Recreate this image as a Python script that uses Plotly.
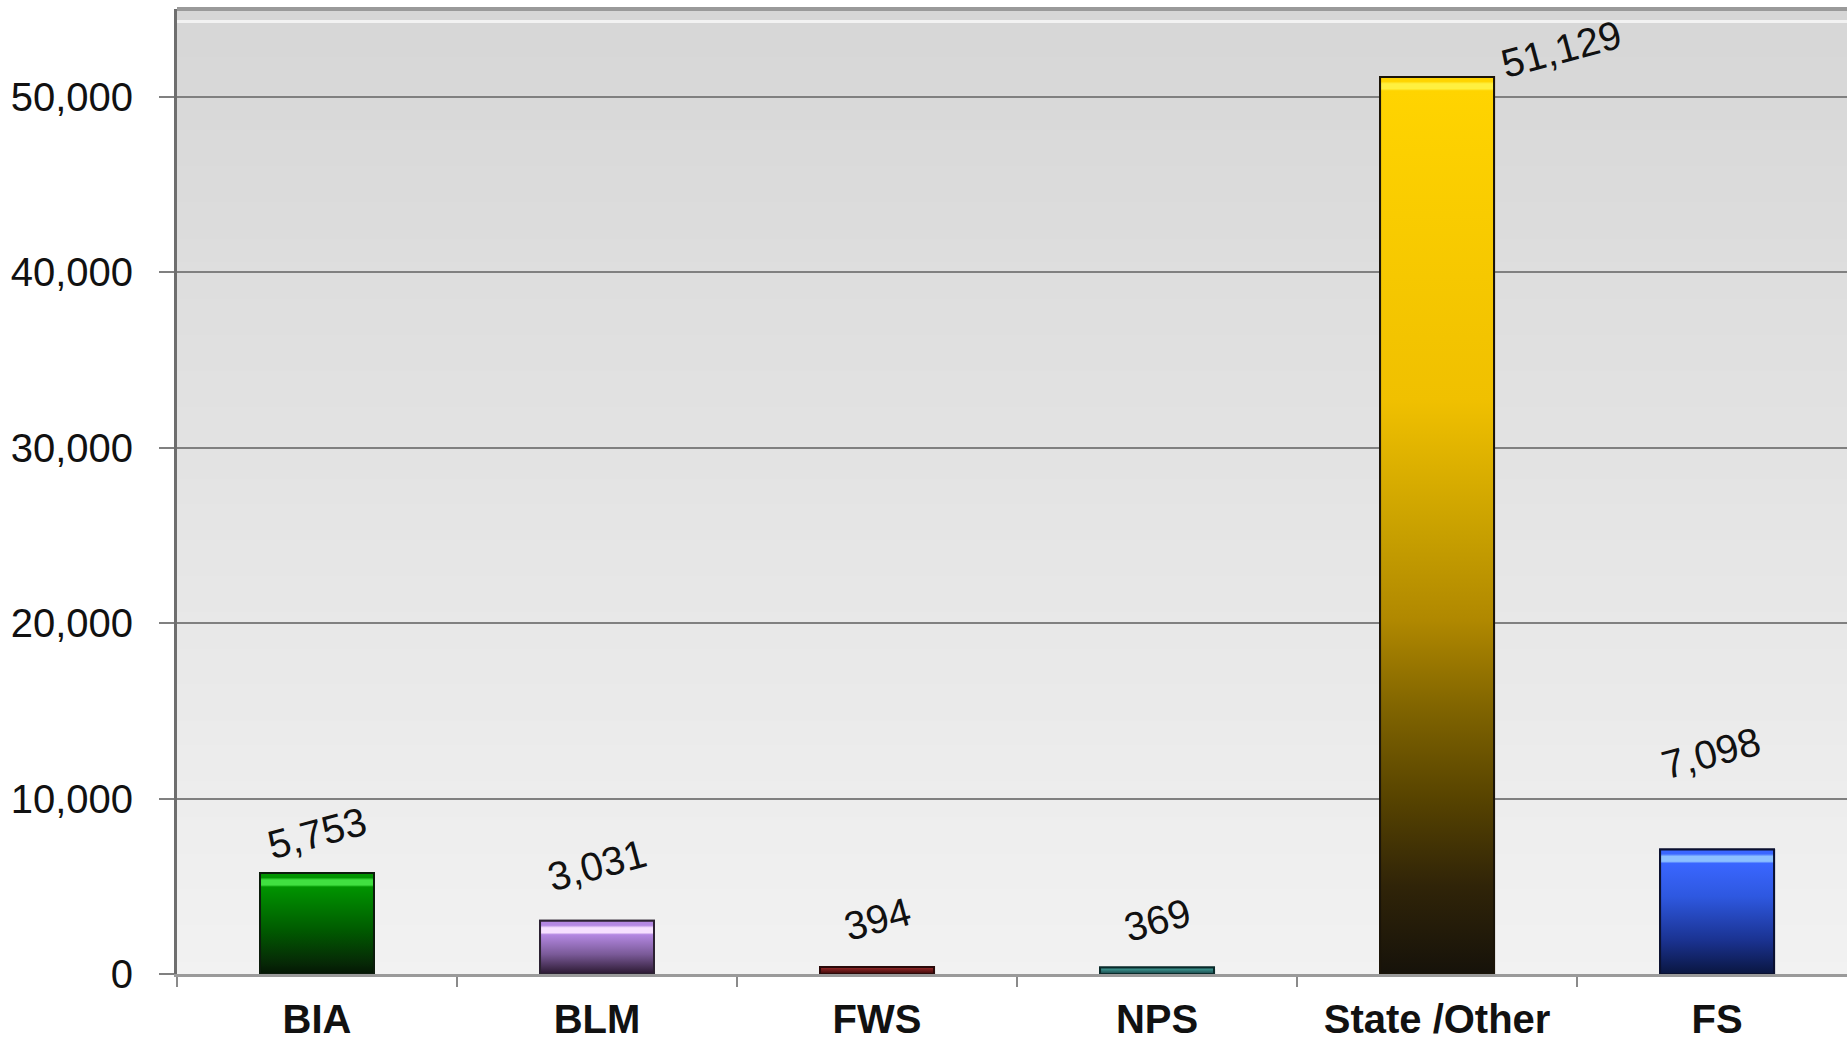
import plotly.graph_objects as go

# ---- data ----
categories = ["BIA", "BLM", "FWS", "NPS", "State /Other", "FS"]
values = [5753, 3031, 394, 369, 51129, 7098]
y_tick_values = [0, 10000, 20000, 30000, 40000, 50000]
y_tick_labels = ["0", "10,000", "20,000", "30,000", "40,000", "50,000"]

# ---- styles ----
base_gradients = [
    [(0, "#041604"), (0.12, "#062806"), (0.5, "#005a00"), (1, "#009400")],
    [(0, "#2a1830"), (0.5, "#7a5a98"), (1, "#b488e2")],
    [(0, "#3a0808"), (1, "#9a2a2a")],
    [(0, "#1a4448"), (1, "#44a8a0")],
    [(0, "#16120a"), (0.1, "#302408"), (0.2, "#584400"), (0.3, "#806400"),
     (0.4, "#b08800"), (0.5, "#c8a000"), (0.65, "#f0c000"), (1, "#ffd400")],
    [(0, "#0a1640"), (0.3, "#1a3290"), (0.7, "#2e58e0"), (1, "#3a66ff")],
]
highlights = ["#40e040", "#f6e0ff", None, None, "#fff040", "#8cc0ff"]
outline_colors = ["#0c1c0c", "#2c2232", "#2a0a0a", "#0a2a2a", "#1a1408", "#0a1030"]
label_offsets = [(0, 40), (0, 56), (0, 48), (0, 48), (124, 28), (-6, 96)]
bar_width = 0.407

W, H = 1847, 1041
ML, MR, MT, MB = 177, 0, 9, 57
y_max = 55000
px_per_unit = (H - MT - MB) / y_max

FONT = "Liberation Sans, Arial, sans-serif"

fig = go.Figure()

# data-bearing bar trace
fig.add_trace(go.Bar(
    x=list(range(len(categories))), y=values, width=bar_width,
    marker=dict(color=[g[-1][1] for g in base_gradients],
                line=dict(color=outline_colors, width=2)),
    hoverinfo="skip", showlegend=False,
))

# gradient fills over the bars (derived from the data)
for i, (v, grad, hi, oc) in enumerate(zip(values, base_gradients, highlights, outline_colors)):
    h = v * px_per_unit
    if hi is not None and h > 40:
        top_lim = 1 - 14 / h
        cs = [[p * top_lim, c] for p, c in grad]
        top = grad[-1][1]
        cs += [[1 - 12 / h, hi], [1 - 7 / h, hi], [1 - 4.5 / h, top], [1, top]]
    else:
        cs = [[p, c] for p, c in grad]
    x0, x1 = i - bar_width / 2, i + bar_width / 2
    fig.add_trace(go.Scatter(
        x=[x0, x1, x1, x0, x0], y=[0, 0, v, v, 0],
        mode="lines", fill="toself",
        fillgradient=dict(type="vertical", colorscale=cs),
        line=dict(color=oc, width=2),
        hoverinfo="skip", showlegend=False,
    ))

# value labels
for i, (v, (dx, dy)) in enumerate(zip(values, label_offsets)):
    fig.add_annotation(
        x=i, y=v, text=f"{v:,}", showarrow=False,
        xshift=dx, yshift=dy, textangle=-15,
        xanchor="center", yanchor="middle",
        font=dict(family=FONT, size=40, color="#111111"),
    )

# plot-area background gradient (top darker, bottom lighter)
def lerp(c0, c1, t):
    a = [int(c0[k:k + 2], 16) for k in (1, 3, 5)]
    b = [int(c1[k:k + 2], 16) for k in (1, 3, 5)]
    return "#%02x%02x%02x" % tuple(round(a[j] + (b[j] - a[j]) * t) for j in range(3))

N = 80
for k in range(N):
    fig.add_shape(type="rect", xref="x domain", yref="y domain",
                  x0=0, x1=1, y0=k / N, y1=(k + 1) / N + 0.002,
                  fillcolor=lerp("#f2f2f2", "#d6d6d6", (k + 0.5) / N),
                  line=dict(width=0), layer="below")

# top border and inner highlight line
fig.add_shape(type="line", xref="x domain", yref="y domain", x0=0, x1=1, y0=0.987, y1=0.987,
              line=dict(color="#f2f2f2", width=3), layer="below")
fig.add_shape(type="line", xref="x domain", yref="y domain", x0=0, x1=1, y0=1, y1=1,
              line=dict(color="#9a9a9a", width=4))

fig.update_layout(
    width=W, height=H,
    margin=dict(l=ML, r=MR, t=MT, b=MB, pad=0),
    paper_bgcolor="white", plot_bgcolor="white",
    barmode="overlay",
    showlegend=False,
    font=dict(family=FONT, color="#111111"),
)

fig.update_xaxes(
    range=[-0.5, 5.464],
    tickmode="array", tickvals=list(range(len(categories))), ticktext=categories,
    ticks="", showgrid=False, zeroline=False,
    tickfont=dict(family=FONT, size=40, color="#111111", weight="bold"),
    ticklabelstandoff=8,
    showline=True, linecolor="#9a9a9a", linewidth=3,
    minor=dict(tick0=0.5, dtick=1, ticks="outside", ticklen=10,
               tickcolor="#8a8a8a", tickwidth=2, showgrid=False),
)

fig.update_yaxes(
    range=[0, y_max],
    tickmode="array", tickvals=y_tick_values, ticktext=y_tick_labels,
    ticks="outside", ticklen=15, tickcolor="#808080", tickwidth=2,
    ticklabelstandoff=18,
    showgrid=True, gridcolor="#808080", gridwidth=2,
    zeroline=False,
    showline=True, linecolor="#6e6e6e", linewidth=3,
    tickfont=dict(family=FONT, size=40, color="#111111"),
)

fig.write_html(
    "out.html",
    config={"displayModeBar": False},
    post_script="document.body.style.margin='0';document.body.style.overflow='hidden';",
)
